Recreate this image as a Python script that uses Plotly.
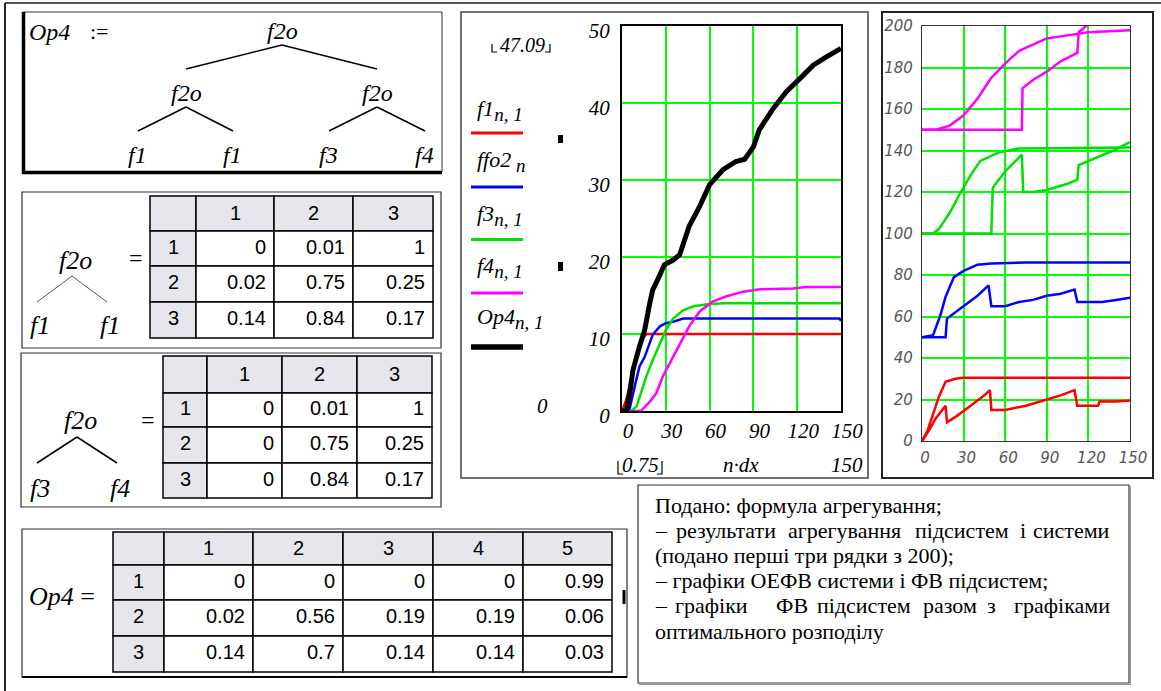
import plotly.graph_objects as go

W, H = 1161, 691

def X(px):
    return px / W

def Y(py):
    return 1 - py / H

SERIF = "Liberation Serif, Times New Roman, Times, DejaVu Serif, serif"
SANS = "Liberation Sans, Arial, sans-serif"

# ---------------- data: middle chart ----------------
f1_x = [0, 3, 6, 9, 13, 15, 17, 20, 150]
f1_y = [0, 1.5, 4, 6.5, 9.2, 9.6, 10, 10, 10]

ffo2_x = [0, 5, 8.7, 12, 15.5, 18, 21, 26, 30, 35, 42, 149, 150]
ffo2_y = [0, 0.1, 3.2, 5.8, 7.0, 8.4, 9.9, 11.0, 11.4, 11.6, 12.0, 12.0, 11.7]

f3_x = [0, 6.4, 10, 13, 16.7, 21, 26, 30, 35, 42, 49, 60, 70, 150]
f3_y = [0, 0, 0.6, 2.3, 4.5, 6.6, 8.8, 10.5, 12.0, 13.1, 13.6, 13.9, 14.0, 14.0]

f4_x = [0, 5, 13, 19, 23.5, 28, 32.7, 39.5, 46, 53, 62, 71.6, 83, 94.4, 117, 126, 150]
f4_y = [0, 0, 0, 1.2, 2.3, 4.5, 6.2, 8.8, 11.0, 12.9, 14.2, 14.9, 15.5, 15.8, 15.9, 16.1, 16.1]

op4_x = [0, 3, 5.3, 7.5, 12, 15.5, 19, 21, 26, 29, 35, 39.5, 46, 53, 60, 69, 78, 84,
         90, 94, 103.6, 112.7, 122, 131, 140, 150]
op4_y = [0, 0, 2.3, 5.3, 8.4, 10.5, 14.0, 15.7, 17.7, 19.0, 19.6, 20.3, 24.0, 26.5, 29.4,
         31.3, 32.4, 32.7, 34.3, 36.5, 39.3, 41.5, 43.2, 44.9, 46.0, 47.09]

# ---------------- data: right chart ----------------
r_fv_x = [0, 4, 8, 12, 17, 24, 30, 150]
r_fv_y = [0, 5, 13, 21, 28.5, 30, 30.5, 30.5]
r_opt_x = [0, 5, 10, 17, 18, 25, 35, 45, 49, 50, 60, 75, 90, 100, 110, 112, 127, 128, 140, 150]
r_opt_y = [0, 5, 11, 17, 9, 12, 17, 22, 24.5, 15, 15, 17, 20, 22, 24.5, 17, 17, 19, 19, 19.5]

b_fv_x = [0, 8, 13.3, 17, 23, 30, 40, 50, 75, 150]
b_fv_y = [50, 51, 60.7, 69.5, 79, 82, 85, 85.5, 86, 86]
b_opt_x = [0, 17, 18, 30, 40, 48, 50, 60, 70, 80, 90, 100, 110, 112, 130, 140, 150]
b_opt_y = [50, 50, 59, 65, 70, 75, 65, 65, 67, 68, 70, 71, 73, 67, 67, 68, 69]

g_fv_x = [0, 8, 12, 20, 28, 35, 42, 55, 70, 150]
g_fv_y = [100, 100, 102, 110, 120, 128, 135, 139, 141, 141.5]
g_opt_x = [0, 50, 51, 60, 72, 73, 80, 90, 105, 112, 113, 120, 138, 150]
g_opt_y = [100, 100, 122, 130, 138, 120, 120, 121, 124, 126, 133, 135, 140, 144]

m_fv_x = [0, 10, 20, 30, 40, 50, 60, 70, 80, 90, 100, 110, 120, 150]
m_fv_y = [150, 150, 152, 157, 165, 175, 182, 188, 191, 194, 195, 196, 197, 198]
m_opt_x = [0, 72, 72.5, 80, 90, 100, 112, 113, 118.5, 125]
m_opt_y = [150, 150, 170, 174, 178, 183, 187, 197, 200, 206]

# ---------------- data: tables ----------------
tab_cols3 = ["1", "2", "3"]
tab_rows3 = ["1", "2", "3"]
f2o_f1_vals = [[0, 0.01, 1], [0.02, 0.75, 0.25], [0.14, 0.84, 0.17]]
f2o_f34_vals = [[0, 0.01, 1], [0, 0.75, 0.25], [0, 0.84, 0.17]]
op4_cols = ["1", "2", "3", "4", "5"]
op4_rows = ["1", "2", "3"]
op4_vals = [[0, 0, 0, 0, 0.99], [0.02, 0.56, 0.19, 0.19, 0.06], [0.14, 0.7, 0.14, 0.14, 0.03]]

mid_xticks = [0, 30, 60, 90, 120, 150]
mid_yticks = [0, 10, 20, 30, 40, 50]
right_xticks = [0, 30, 60, 90, 120, 150]
right_yticks = [0, 20, 40, 60, 80, 100, 120, 140, 160, 180, 200]

legend_names = ["f1", "ffo2", "f3", "f4", "Op4"]
legend_subs = ["n, 1", " n", "n, 1", "n, 1", "n, 1"]
text_lines = ["Подано: формула агрегування;",
              "– результати агрегування підсистем і системи",
              "(подано перші три рядки з 200);",
              "– графіки ОЕФВ системи і ФВ підсистем;",
              "– графіки ФВ підсистем разом з графіками",
              "оптимального розподілу"]
# left edges (px) of the words of the two justified lines (last word right-aligned)
justify_left = {1: [653, 674, 786, 913, 1018, 1112], 4: [653, 673, 774, 815, 921, 985, 1112]}

RED, BLUE, GREEN, MAG = "#ff0000", "#0000ff", "#00e000", "#ff00ff"

fig = go.Figure()

for xs, ys, c, w in [(f1_x, f1_y, RED, 2.5), (ffo2_x, ffo2_y, BLUE, 2.5), (f3_x, f3_y, GREEN, 2.5),
                     (f4_x, f4_y, MAG, 2.5), (op4_x, op4_y, "#000000", 5)]:
    fig.add_trace(go.Scatter(x=xs, y=ys, mode="lines", line=dict(color=c, width=w),
                             xaxis="x", yaxis="y", showlegend=False, hoverinfo="skip"))

for xs, ys, c in [(r_fv_x, r_fv_y, RED), (r_opt_x, r_opt_y, RED), (b_fv_x, b_fv_y, BLUE),
                  (b_opt_x, b_opt_y, BLUE), (g_fv_x, g_fv_y, GREEN), (g_opt_x, g_opt_y, GREEN),
                  (m_fv_x, m_fv_y, MAG), (m_opt_x, m_opt_y, MAG)]:
    fig.add_trace(go.Scatter(x=xs, y=ys, mode="lines", line=dict(color=c, width=2.5),
                             xaxis="x2", yaxis="y2", showlegend=False, hoverinfo="skip"))

shapes = []
ann = []

def line(x0, y0, x1, y1, color="black", width=1.5):
    shapes.append(dict(type="line", xref="paper", yref="paper", x0=X(x0), y0=Y(y0), x1=X(x1), y1=Y(y1),
                       line=dict(color=color, width=width)))

def rect(x0, y0, x1, y1, color="black", width=1, fill=None):
    d = dict(type="rect", xref="paper", yref="paper", x0=X(x0), y0=Y(y0), x1=X(x1), y1=Y(y1),
             line=dict(color=color, width=width), layer="below")
    if fill:
        d["fillcolor"] = fill
    shapes.append(d)

def text(x, y, t, size=20, family=SERIF, color="black", xanchor="center"):
    ann.append(dict(x=X(x), y=Y(y), xref="paper", yref="paper", text=t, showarrow=False,
                    xanchor=xanchor, yanchor="middle", font=dict(size=size, family=family, color=color)))

def path(pts, color="black", width=1.2):
    p = "M " + " L ".join(f"{X(a)} {Y(b)}" for a, b in pts)
    shapes.append(dict(type="path", xref="paper", yref="paper", path=p, line=dict(color=color, width=width)))

# outer frame
line(5, 3, 1161, 3, "#555", 2)
line(5, 3, 5, 691, "#222", 2)

# ---- box 1: tree ----
rect(23, 12, 442, 172, "#333", 1)
line(23.5, 12, 23.5, 174, "black", 3.5)
line(22, 172.5, 442, 172.5, "black", 3.5)
text(27, 32, "<i>Op4</i>", 24, xanchor="left")
text(99, 32, ":=", 22)
TF = 24
text(282, 31, "<i>f2o</i>", TF)
line(282, 45, 186, 69)
line(282, 45, 377, 69)
text(186, 93, "<i>f2o</i>", TF)
text(377, 93, "<i>f2o</i>", TF)
line(186, 107, 138, 131)
line(186, 107, 233, 131)
line(377, 107, 329, 131)
line(377, 107, 425, 131)
text(137, 155, "<i>f1</i>", TF)
text(232, 155, "<i>f1</i>", TF)
text(328, 155, "<i>f3</i>", TF)
text(424, 155, "<i>f4</i>", TF)

HDR = "#e6e6ec"

def table(colx, rowy, cols, rows, vals):
    for j in range(len(colx) - 1):
        for i in range(len(rowy) - 1):
            fill = HDR if (i == 0 or j == 0) else "white"
            rect(colx[j], rowy[i], colx[j + 1], rowy[i + 1], "black", 1.5, fill)
    for j, c in enumerate(cols):
        text((colx[j + 1] + colx[j + 2]) / 2, (rowy[0] + rowy[1]) / 2 - 1, c, 20, SANS)
    for i, r in enumerate(rows):
        text((colx[0] + colx[1]) / 2, (rowy[i + 1] + rowy[i + 2]) / 2 - 2, r, 20, SANS)
        for j, v in enumerate(vals[i]):
            text(colx[j + 2] - 6, (rowy[i + 1] + rowy[i + 2]) / 2 - 2, f"{v:g}", 20, SANS, xanchor="right")

# ---- box 2 ----
rect(22, 192, 441, 348, "#333", 1.2)
table([150, 196, 274, 353, 433], [196, 231, 266, 302, 338], tab_cols3, tab_rows3, f2o_f1_vals)
text(75, 260, "<i>f2o</i>", 26)
text(136, 258, "=", 24)
line(72, 276, 37, 302, "#555", 1)
line(72, 276, 107, 302, "#555", 1)
text(40, 325, "<i>f1</i>", 26)
text(110, 325, "<i>f1</i>", 26)

# ---- box 3 ----
rect(21, 353, 441, 507, "#333", 1.2)
table([163, 207, 282, 357, 432], [356, 393, 427, 463, 498], tab_cols3, tab_rows3, f2o_f34_vals)
text(80, 420, "<i>f2o</i>", 26)
text(148, 420, "=", 24)
line(77, 437, 37, 463, "black", 1.5)
line(77, 437, 117, 463, "black", 1.5)
text(40, 488, "<i>f3</i>", 26)
text(120, 488, "<i>f4</i>", 26)

# ---- box 4 ----
rect(22, 529, 627, 677, "#333", 1.2)
line(22, 677, 627, 677, "black", 2)
line(624, 590, 624, 604, "black", 3)
table([113, 164, 253, 343, 433, 523, 612], [532, 565, 600, 636, 672], op4_cols, op4_rows, op4_vals)
text(27, 596, "<i>Op4</i> =", 26, xanchor="left")

# ---- middle chart box ----
rect(461, 12, 868, 478, "#444", 1.5)
text(522, 45, "<i>47.09</i>", 20)
path([(492, 44), (492, 52), (497, 52)])
path([(550, 44), (550, 52), (545, 52)])
leg_text_y = [110, 162, 215, 267, 318]
leg_line_y = [133, 187, 239.5, 293, 347]
leg_cols = [RED, BLUE, GREEN, MAG, "black"]
leg_w = [3, 3, 3, 3, 5.5]
for nm, sb, ty, ly, c, w in zip(legend_names, legend_subs, leg_text_y, leg_line_y, leg_cols, leg_w):
    lab = f"<i>{nm}<sub><span style='font-size:19px'>{sb}</span></sub></i>"
    text(475, ty, lab, 22, xanchor="left")
    line(471, ly, 523, ly, c, w)
rect(558, 135, 563, 143, "black", 0, "black")
rect(558, 262, 563, 271, "black", 0, "black")
text(542, 406, "<i>0</i>", 21)
text(640, 465, "<i>0.75</i>", 21)
path([(618, 461), (618, 474), (623, 474)])
path([(662, 461), (662, 474), (657, 474)])
text(741, 465, "<i>n·dx</i>", 21)
text(847, 465, "<i>150</i>", 21)

# ---- right chart box ----
rect(882, 12, 1153, 478, "#222", 2)

# ---- text box ----
rect(638, 485, 1129, 683, "#333", 1.2)
line(1130.5, 486, 1130.5, 684, "#999", 1)
line(639, 684.5, 1131, 684.5, "#999", 1)
ty0 = 505
TS = 22
for k, t in enumerate(text_lines):
    yy = ty0 + k * 25.2
    if k in justify_left:
        words = t.split(" ")
        lefts = justify_left[k]
        for idx, (wd, lx) in enumerate(zip(words, lefts)):
            text(lx, yy, wd, TS, xanchor="right" if idx == len(words) - 1 else "left")
    else:
        text(653, yy, t, TS, xanchor="left")

tick_serif = dict(family=SERIF, size=21, color="black", style="italic")
tick_sans = dict(family="DejaVu Sans", size=15, color="#555", style="italic")
GRID = dict(showgrid=True, gridcolor="#00ff00", gridwidth=1.5, zeroline=False, ticks="", automargin=False)

fig.update_layout(
    width=W, height=H, margin=dict(l=0, r=0, t=0, b=0, pad=0, autoexpand=False),
    paper_bgcolor="white", plot_bgcolor="white",
    shapes=shapes, annotations=ann,
    xaxis=dict(domain=[X(622), X(841)], range=[0, 150], tickvals=mid_xticks, **GRID,
               showline=True, linecolor="black", linewidth=2, mirror=True,
               tickfont=tick_serif, ticklabelshift=6, ticklabelstandoff=0, anchor="y"),
    yaxis=dict(domain=[Y(411), Y(26)], range=[0, 50], tickvals=mid_yticks, **GRID,
               showline=True, linecolor="black", linewidth=2, mirror=True,
               tickfont=tick_serif, ticklabelshift=5, ticklabelstandoff=6, anchor="x"),
    xaxis2=dict(domain=[X(922), X(1130)], range=[0, 150], tickvals=right_xticks, **GRID,
                showline=True, linecolor="#333", linewidth=1.2, mirror=True,
                tickfont=tick_sans, ticklabelshift=3, ticklabelstandoff=3, anchor="y2"),
    yaxis2=dict(domain=[Y(441), Y(26)], range=[0, 200], tickvals=right_yticks, **GRID,
                showline=True, linecolor="#333", linewidth=1.2, mirror=True,
                tickfont=tick_sans, ticklabelstandoff=5, anchor="x2"),
)

fig.write_html("out.html", config={"responsive": False, "displayModeBar": False},
               post_script="document.body.style.margin='0';document.body.style.overflow='hidden';")
